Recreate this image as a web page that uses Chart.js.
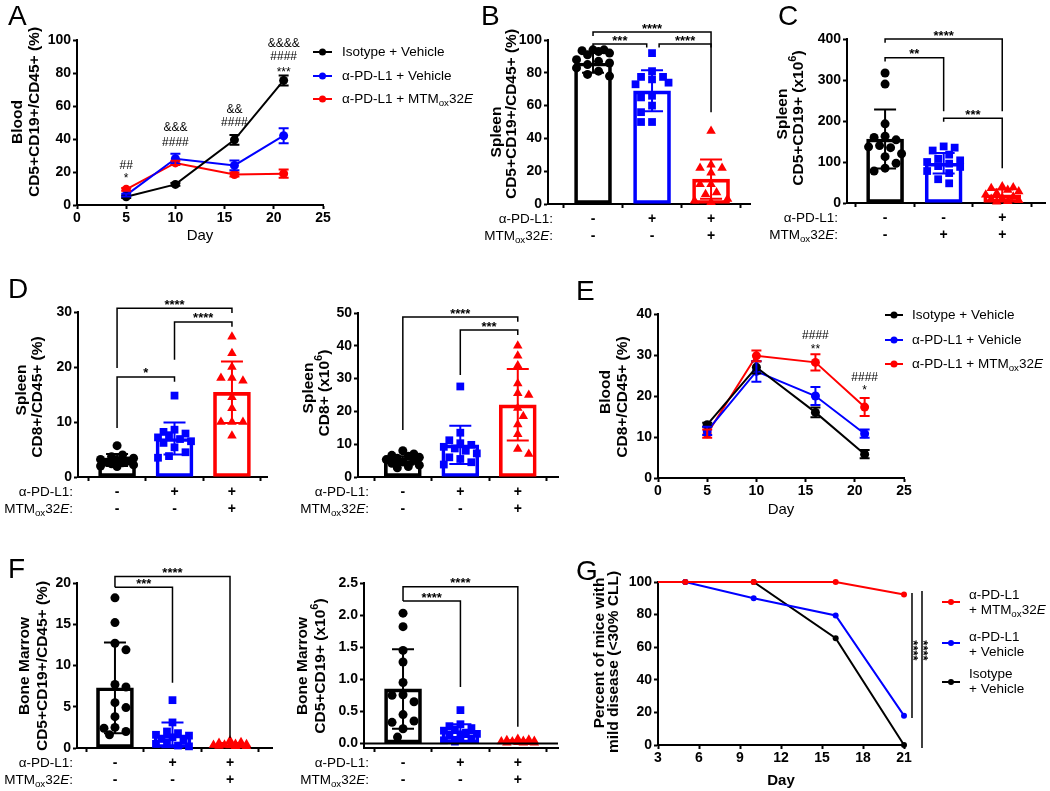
<!DOCTYPE html>
<html>
<head>
<meta charset="utf-8">
<script src="https://cdn.jsdelivr.net/npm/chart.js@4.4.1/dist/chart.umd.min.js"></script>
<style>
  html, body { margin: 0; padding: 0; background: #fff; }
  #wrap { position: relative; width: 1050px; height: 791px; overflow: hidden; }
  #wrap canvas { position: absolute; left: 0; top: 0; }
</style>
</head>
<body>
<div id="wrap"></div>
<script>
const FONT = '"Liberation Sans", Arial, Helvetica, sans-serif';
const BLK = '#000000', BLU = '#0000ff', RED = '#ff0000';
const COLS = [BLK, BLU, RED];
const STYLES = ['circle', 'rect', 'triangle'];
const RADII = [4.5, 5.5, 5.5];
const COMBO = 'MTM<sub>ox</sub>32<i>E</i>';

// ---------- data ----------
const lineDays = [5, 10, 16, 21];
const lineDayTicks = [0, 5, 10, 15, 20, 25];

// A: blood CD5+CD19+/CD45+ (%)
const aIso = [5, 12.5, 39.5, 75.5];
const aIsoErr = [0.8, 0.9, 3, 3];
const aPd = [6, 28, 24, 42];
const aPdErr = [0.8, 3, 3, 4.5];
const aCombo = [9.5, 25.5, 18.5, 19];
const aComboErr = [0.8, 1.3, 1.2, 2.5];
const aTicks = [0, 20, 40, 60, 80, 100];
const aNoteDay = [5, 5, 10, 10, 16, 16, 21, 21, 21];
const aNoteText = ['##', '*', '&&&', '####', '&&', '####', '&&&&', '####', '***'];
const aNoteY = [24, 18, 46.7, 38, 58, 50, 98, 90, 82];

// treatment rows under the bar charts
const rowPd = ['-', '+', '+'];
const rowCombo = ['-', '-', '+'];
const cRowPd = ['-', '-', '+'];
const cRowCombo = ['-', '+', '+'];

// B: spleen CD5+CD19+/CD45+ (%)
const bMean = [86, 69, 15.2];
const bSd = [6, 12.5, 12];
const bIso = [94, 94, 93.5, 93, 92, 91, 88, 87, 86, 85, 83, 81, 79, 78];
const bPd = [92, 81, 77.5, 77.5, 76, 74, 73, 66, 65, 60, 56, 50, 50];
const bCombo = [44.5, 24, 22, 22, 19, 12, 12, 7, 6, 3, 2, 1];
const bTicks = [0, 20, 40, 60, 80, 100];

// C: spleen CD5+CD19+ (x10^6)
const cMean = [156, 97, 20];
const cSd = [72, 25, 13];
const cIso = [317, 290, 193, 163, 160, 154, 140, 137, 135, 120, 113, 97, 85, 78];
const cPd = [138, 135, 128, 118, 108, 104, 100, 96, 90, 88, 78, 73, 58, 48];
const cCombo = [40, 38, 36, 32, 28, 24, 20, 15, 12, 10, 7, 4, 3];
const cTicks = [0, 100, 200, 300, 400];

// D left: spleen CD8+/CD45+ (%)
const d1Mean = [3.1, 7.0, 15.4];
const d1Sd = [1.1, 2.9, 5.6];
const d1Iso = [5.7, 4.0, 3.7, 3.4, 3.2, 3.0, 2.9, 2.7, 2.6, 2.4, 2.2, 2.0, 1.9];
const d1Pd = [14.8, 8.6, 8.2, 7.9, 7.6, 7.2, 6.9, 6.5, 6.2, 5.4, 4.5, 3.8, 3.5];
const d1Combo = [25.5, 22.5, 20, 18, 18, 17.5, 14.5, 12.5, 10, 10, 10, 7.5];
const d1Ticks = [0, 10, 20, 30];

// D right: spleen CD8+ (x10^6)
const d2Mean = [5.0, 9.8, 22];
const d2Sd = [1.3, 5.8, 10.9];
const d2Iso = [8, 7, 6.6, 6.3, 6, 5.7, 5.3, 5, 4.6, 4.2, 3.6, 3.2, 2.8];
const d2Pd = [27.6, 13.5, 11.2, 10.3, 9.8, 9.2, 8.7, 8, 7.2, 6, 5.5, 4.5, 3.8];
const d2Combo = [40, 37, 34, 28.5, 25.5, 25, 21, 18.5, 16, 13, 8.5, 7];
const d2Ticks = [0, 10, 20, 30, 40, 50];

// E: blood CD8+/CD45+ (%)
const eIso = [13, 27, 16, 5.8];
const eIsoErr = [0.5, 1.5, 1.2, 1];
const ePd = [11.5, 26, 20, 10.8];
const ePdErr = [1, 2.5, 2.2, 1];
const eCombo = [10.8, 29.8, 28.2, 17.3];
const eComboErr = [1, 1.3, 2, 2.2];
const eTicks = [0, 10, 20, 30, 40];
const eNoteDay = [16, 16, 21, 21];
const eNoteText = ['####', '**', '####', '*'];
const eNoteY = [34.6, 32, 24.4, 22];

// F left: bone marrow CD5+CD19+/CD45+ (%)
const f1Mean = [7.3, 1.6, 0.4];
const f1Sd = [5.5, 1.5, 0.2];
const f1Iso = [18.2, 15.2, 12.7, 11.9, 7.7, 7.4, 5.5, 4.9, 3.8, 2.5, 2.4, 2.0, 1.6];
const f1Pd = [5.8, 3.1, 2.0, 1.8, 1.6, 1.5, 1.3, 1.1, 0.9, 0.7, 0.5, 0.3, 0.2];
const f1Combo = [0.9, 0.7, 0.6, 0.5, 0.45, 0.4, 0.35, 0.3, 0.3, 0.25, 0.2, 0.2];
const f1Ticks = [0, 5, 10, 15, 20];

// F right: bone marrow CD5+CD19+ (x10^6)
const f2Mean = [0.85, 0.2, 0.03];
const f2Sd = [0.62, 0.1, 0.02];
const f2Iso = [2.03, 1.82, 1.45, 1.27, 0.95, 0.76, 0.75, 0.65, 0.45, 0.35, 0.33, 0.23, 0.1];
const f2Pd = [0.52, 0.3, 0.27, 0.24, 0.22, 0.2, 0.17, 0.15, 0.12, 0.1, 0.08, 0.05, 0.03];
const f2Combo = [0.07, 0.06, 0.05, 0.04, 0.04, 0.03, 0.03, 0.02, 0.02, 0.01, 0.01, 0.01];
const f2Ticks = [0, 0.5, 1, 1.5, 2, 2.5];

// G: percent of mice with mild disease
const gDays = [3, 5, 10, 16, 21];
const gCombo = [100, 100, 100, 100, 92.3];
const gPd = [100, 100, 90, 79.5, 18];
const gIso = [100, 100, 100, 65.5, 0];
const gDayTicks = [3, 6, 9, 12, 15, 18, 21];
const gTicks = [0, 20, 40, 60, 80, 100];

// ---------- rich text ----------
function parseRich(s) {
  const out = [], re = /<(sub|sup|i)>(.*?)<\/\1>/g;
  let last = 0, m;
  while ((m = re.exec(s))) {
    if (m.index > last) out.push({ t: s.slice(last, m.index) });
    out.push({ t: m[2], [m[1]]: true });
    last = re.lastIndex;
  }
  if (last < s.length) out.push({ t: s.slice(last) });
  return out;
}
function fontFor(p, size, bold) {
  const sz = (p.sub || p.sup) ? size * 0.72 : size;
  return (p.i ? 'italic ' : '') + (bold ? 'bold ' : '') + sz + 'px ' + FONT;
}
function drawRich(ctx, s, x, y, o) {
  const parts = parseRich(s), size = o.size || 14;
  ctx.save();
  ctx.translate(x, y);
  if (o.rot) ctx.rotate(o.rot);
  let w = 0;
  parts.forEach(p => { ctx.font = fontFor(p, size, o.bold); p.w = ctx.measureText(p.t).width; w += p.w; });
  let cx = o.align === 'center' ? -w / 2 : o.align === 'right' ? -w : 0;
  ctx.fillStyle = o.color || BLK;
  ctx.textBaseline = 'middle';
  ctx.textAlign = 'left';
  parts.forEach(p => {
    ctx.font = fontFor(p, size, o.bold);
    const dy = p.sub ? size * 0.3 : p.sup ? -size * 0.38 : 0;
    ctx.fillText(p.t, cx, dy);
    cx += p.w;
  });
  ctx.restore();
}
const isStars = s => /^\*+$/.test(s);

// ---------- decoration plugin ----------
function drawErrors(chart) {
  const ctx = chart.ctx, ys = chart.scales.y;
  chart.data.datasets.forEach((ds, i) => {
    if (!ds.err) return;
    const meta = chart.getDatasetMeta(i);
    ctx.save();
    ctx.lineWidth = 2;
    meta.data.forEach((el, j) => {
      const v = ds.data[j].y, e = ds.err[j];
      const top = ys.getPixelForValue(v + e), bot = ys.getPixelForValue(v - e);
      ctx.strokeStyle = Array.isArray(ds.errColor) ? ds.errColor[j] : ds.errColor;
      ctx.beginPath();
      ctx.moveTo(el.x, top); ctx.lineTo(el.x, bot);
      ctx.moveTo(el.x - ds.cap, top); ctx.lineTo(el.x + ds.cap, top);
      ctx.moveTo(el.x - ds.cap, bot); ctx.lineTo(el.x + ds.cap, bot);
      ctx.stroke();
    });
    ctx.restore();
  });
}

function drawDeco(chart, c) {
  const ctx = chart.ctx, xs = chart.scales.x, ys = chart.scales.y, ca = chart.chartArea;
  ctx.save();
  if (c.letter) drawRich(ctx, c.letter[0], c.letter[1], c.letter[2], { size: 28 });
  (c.texts || []).forEach(t => drawRich(ctx, t.s, t.x, t.y, t));
  if (c.rows) {
    const lh = 14 * 1.2;
    c.rows.forEach((s, k) => drawRich(ctx, s, c.rowX, ca.bottom + 4 + c.pad + lh / 2 + k * lh, { size: 13.5, align: 'right' }));
  }
  if (c.legend) {
    const L = c.legend;
    L.items.forEach(it => {
      ctx.strokeStyle = it.color; ctx.fillStyle = it.color; ctx.lineWidth = 2;
      ctx.beginPath(); ctx.moveTo(L.x1, it.y); ctx.lineTo(L.x2, it.y); ctx.stroke();
      ctx.beginPath(); ctx.arc((L.x1 + L.x2) / 2, it.y, L.r, 0, Math.PI * 2); ctx.fill();
      it.lines.forEach(ln => drawRich(ctx, ln[0], L.tx, ln[1], { size: 13.5 }));
    });
  }
  (c.brackets || []).forEach(b => {
    const x1 = xs.getPixelForValue(b[0]), x2 = xs.getPixelForValue(b[1]);
    const y = ys.getPixelForValue(b[2]), y1 = ys.getPixelForValue(b[3]), y2 = ys.getPixelForValue(b[4]);
    ctx.strokeStyle = BLK; ctx.lineWidth = 1.5;
    ctx.beginPath(); ctx.moveTo(x1, y1); ctx.lineTo(x1, y); ctx.lineTo(x2, y); ctx.lineTo(x2, y2); ctx.stroke();
    drawRich(ctx, b[5], (x1 + x2) / 2, y - 6 + 13 * 0.23, { size: 13, bold: true, align: 'center' });
  });
  (c.notes || []).forEach(n => {
    const sz = 12;
    drawRich(ctx, n[1], xs.getPixelForValue(n[0]), ys.getPixelForValue(n[2]) + (isStars(n[1]) ? sz * 0.25 : 0), { size: sz, align: 'center' });
  });
  (c.vlines || []).forEach(v => {
    ctx.strokeStyle = BLK; ctx.lineWidth = 1.5;
    const x = xs.getPixelForValue(v[0]);
    ctx.beginPath(); ctx.moveTo(x, ys.getPixelForValue(v[1])); ctx.lineTo(x, ys.getPixelForValue(v[2])); ctx.stroke();
    drawRich(ctx, '****', xs.getPixelForValue(v[3]), ys.getPixelForValue(v[4]), { size: 13, bold: true, align: 'center', rot: Math.PI / 2 });
  });
  if (c.zeroLine) {
    const y = ys.getPixelForValue(0);
    ctx.strokeStyle = BLK; ctx.lineWidth = 2;
    ctx.beginPath(); ctx.moveTo(ca.left, y); ctx.lineTo(ca.right, y); ctx.stroke();
  }
  ctx.restore();
}

function deco(cfg) {
  return {
    id: 'deco',
    afterDatasetsDraw(chart) { drawErrors(chart); },
    afterDraw(chart) { drawDeco(chart, cfg); }
  };
}

// ---------- axes ----------
function yAxis(min, max, ticks, fmt) {
  return {
    type: 'linear', min, max,
    afterBuildTicks: s => { s.ticks = ticks.map(v => ({ value: v })); },
    grid: { display: true, drawOnChartArea: false, drawTicks: true, tickLength: 4, tickWidth: 2, tickColor: BLK },
    border: { display: true, color: BLK, width: 2 },
    ticks: { color: BLK, font: { size: 14, weight: 'bold' }, padding: 2, callback: fmt || (v => v) }
  };
}
function xAxis(min, max, ticks, fmt, pad) {
  return {
    type: 'linear', min, max, offset: false,
    afterBuildTicks: s => { s.ticks = ticks.map(v => ({ value: v })); },
    grid: { display: true, drawOnChartArea: false, drawTicks: true, tickLength: 4, tickWidth: 2, tickColor: BLK },
    border: { display: true, color: BLK, width: 2 },
    ticks: { color: BLK, font: { size: 14, weight: 'bold', lineHeight: 1.2 }, padding: pad, autoSkip: false, maxRotation: 0, minRotation: 0, callback: fmt || (v => v) }
  };
}

// ---------- helpers ----------
const wrap = document.getElementById('wrap');
function makeChart(g, config) {
  const cv = document.createElement('canvas');
  cv.width = 1050; cv.height = 791;
  cv.style.width = '1050px'; cv.style.height = '791px';
  wrap.appendChild(cv);
  // the axis boxes fill the space from the canvas edge to the plot area, so labels are not clipped
  config.options.scales.y.afterFit = s => { s.width = g.l; };
  config.options.scales.x.afterFit = s => { s.height = 791 - g.b; };
  config.options = Object.assign({
    responsive: false, animation: false, devicePixelRatio: 1,
    layout: { autoPadding: false, padding: { left: 0, top: g.t, right: 1050 - g.r, bottom: 0 } },
    plugins: { legend: { display: false }, tooltip: { enabled: false } },
    events: []
  }, config.options);
  return new Chart(cv.getContext('2d'), config);
}

// spread the dots of one group sideways so they do not overlap
function swarm(vals, cat, pxY, pxX) {
  const d = 9.5, step = 5.5, half = 17;
  const idx = vals.map((v, i) => i).sort((a, b) => vals[b] - vals[a]);
  const placed = [], out = [];
  idx.forEach(i => {
    const py = vals[i] * pxY;
    let best = 0, bestGap = -1, done = false;
    for (let k = 0; k <= 6 && !done; k++) {
      const cands = k === 0 ? [0] : (placed.length % 2 ? [k * step, -k * step] : [-k * step, k * step]);
      for (const off of cands) {
        if (Math.abs(off) > half) continue;
        const gap = placed.reduce((m, p) => Math.min(m, Math.hypot(p.x - off, p.y - py)), Infinity);
        if (gap >= d) { best = off; done = true; break; }
        if (gap > bestGap) { bestGap = gap; best = off; }
      }
    }
    placed.push({ x: best, y: py });
    out[i] = { x: cat + best / pxX, y: vals[i] };
  });
  return out;
}

function lineSet(days, vals, err, color, order, radius) {
  return {
    type: 'line', data: days.map((d, i) => ({ x: d, y: vals[i] })), err, errColor: color, cap: 5,
    borderColor: color, backgroundColor: color, pointBackgroundColor: color, pointBorderColor: color,
    borderWidth: 2, pointRadius: radius, pointBorderWidth: 0, tension: 0, clip: false, order
  };
}

function barChart(g, xr, yr, yTicks, yFmt, rows, means, sds, groups, extra) {
  const pxY = (g.b - g.t) / (yr[1] - yr[0]), pxX = (g.r - g.l) / (xr[1] - xr[0]);
  const datasets = [{
    type: 'bar', data: means.map((m, i) => ({ x: i, y: m })), err: sds, errColor: COLS, cap: 11,
    borderColor: COLS, backgroundColor: 'rgba(255,255,255,0)', borderWidth: 3, borderSkipped: false,
    barThickness: 37, order: 3, clip: false
  }];
  groups.forEach((vals, k) => datasets.push({
    type: 'scatter', data: swarm(vals, k, pxY, pxX), pointStyle: STYLES[k], pointRadius: RADII[k],
    backgroundColor: COLS[k], borderColor: COLS[k], borderWidth: 0, order: 1, clip: false
  }));
  const pad = 3;
  return makeChart(g, {
    type: 'bar',
    data: { datasets },
    options: {
      scales: {
        x: xAxis(xr[0], xr[1], [0, 1, 2], v => [rows[0][v], rows[1][v]], pad),
        y: yAxis(yr[0], yr[1], yTicks, yFmt)
      }
    },
    plugins: [deco(Object.assign({ pad, rows: ['α-PD-L1:', COMBO + ':'] }, extra))]
  });
}

const ROT = -Math.PI / 2;
const title = (s, x, y, size) => ({ s, x, y, rot: ROT, size: size || 15.5, bold: true, align: 'center' });

// ---------- A ----------
makeChart({ l: 77, t: 40, r: 323, b: 205 }, {
  type: 'line',
  data: { datasets: [
    lineSet(lineDays, aIso, aIsoErr, BLK, 0, 4.5),
    lineSet(lineDays, aPd, aPdErr, BLU, 1, 4.5),
    lineSet(lineDays, aCombo, aComboErr, RED, 2, 4.5)
  ] },
  options: { scales: { x: xAxis(0, 25, lineDayTicks, null, 1), y: yAxis(0, 100, aTicks) } },
  plugins: [deco({
    letter: ['A', 8, 17],
    texts: [title('Blood', 18, 122), title('CD5+CD19+/CD45+ (%)', 35, 112),
            { s: 'Day', x: 200, y: 236, size: 15, align: 'center' }],
    legend: { x1: 313, x2: 332, tx: 342, r: 3.5, items: [
      { color: BLK, y: 52, lines: [['Isotype + Vehicle', 52]] },
      { color: BLU, y: 76, lines: [['α-PD-L1 + Vehicle', 76]] },
      { color: RED, y: 99, lines: [['α-PD-L1 + ' + COMBO, 99]] }
    ] },
    notes: aNoteDay.map((d, i) => [d, aNoteText[i], aNoteY[i]])
  })]
});

// ---------- B ----------
barChart({ l: 548, t: 40, r: 750, b: 204 }, [-0.763, 2.66], [0, 100], bTicks, null,
  [rowPd, rowCombo], bMean, bSd, [bIso, bPd, bCombo], {
    letter: ['B', 481, 17], rowX: 553,
    texts: [title('Spleen', 497, 132), title('CD5+CD19+/CD45+ (%)', 512, 114)],
    brackets: [[0, 2, 104.9, 102.5, 56, '****'], [0, 0.91, 97.6, 95.5, 95.5, '***'], [1.12, 2, 97.6, 95.5, 95.5, '****']]
  });

// ---------- C ----------
barChart({ l: 847, t: 39, r: 1045, b: 203 }, [-0.65, 2.73], [0, 400], cTicks, null,
  [cRowPd, cRowCombo], cMean, cSd, [cIso, cPd, cCombo], {
    letter: ['C', 778, 17], rowX: 838,
    texts: [title('Spleen', 783, 114), title('CD5+CD19+ (x10<sup>6</sup>)', 799, 118)],
    brackets: [[0, 2, 400, 391, 224, '****'], [0, 1, 354, 345, 224, '**'], [1, 2, 207, 198, 85, '***']]
  });

// ---------- D left ----------
barChart({ l: 78, t: 312, r: 267, b: 477 }, [-0.68, 2.61], [0, 30], d1Ticks, null,
  [rowPd, rowCombo], d1Mean, d1Sd, [d1Iso, d1Pd, d1Combo], {
    letter: ['D', 8, 290], rowX: 73,
    texts: [title('Spleen', 22, 390), title('CD8+/CD45+ (%)', 38, 397)],
    brackets: [[0, 2, 30.7, 19.8, 29.8, '****'], [1, 2, 28.2, 21.3, 27.3, '****'], [0, 1, 18.2, 8.9, 17.3, '*']]
  });

// ---------- D right ----------
barChart({ l: 358, t: 313, r: 558, b: 477 }, [-0.78, 2.7], [0, 50], d2Ticks, null,
  [rowPd, rowCombo], d2Mean, d2Sd, [d2Iso, d2Pd, d2Combo], {
    rowX: 369,
    texts: [title('Spleen', 309, 388), title('CD8+ (x10<sup>6</sup>)', 325, 393)],
    brackets: [[0, 2, 48.8, 14.3, 47.3, '****'], [1, 2, 44.8, 31.1, 43.3, '***']]
  });

// ---------- E ----------
makeChart({ l: 658, t: 314, r: 904, b: 478 }, {
  type: 'line',
  data: { datasets: [
    lineSet(lineDays, eIso, eIsoErr, BLK, 0, 4.5),
    lineSet(lineDays, ePd, ePdErr, BLU, 1, 4.5),
    lineSet(lineDays, eCombo, eComboErr, RED, 2, 4.5)
  ] },
  options: { scales: { x: xAxis(0, 25, lineDayTicks, null, 1), y: yAxis(0, 40, eTicks) } },
  plugins: [deco({
    letter: ['E', 576, 292],
    texts: [title('Blood', 606, 392), title('CD8+/CD45+ (%)', 623, 397),
            { s: 'Day', x: 781, y: 510, size: 15, align: 'center' }],
    legend: { x1: 885, x2: 903, tx: 912, r: 3.5, items: [
      { color: BLK, y: 315, lines: [['Isotype + Vehicle', 315]] },
      { color: BLU, y: 340, lines: [['α-PD-L1 + Vehicle', 340]] },
      { color: RED, y: 364, lines: [['α-PD-L1 + ' + COMBO, 364]] }
    ] },
    notes: eNoteDay.map((d, i) => [d, eNoteText[i], eNoteY[i]])
  })]
});

// ---------- F left ----------
barChart({ l: 77, t: 583, r: 272, b: 748 }, [-0.66, 2.73], [0, 20], f1Ticks, null,
  [rowPd, rowCombo], f1Mean, f1Sd, [f1Iso, f1Pd, f1Combo], {
    letter: ['F', 8, 570], rowX: 73,
    texts: [title('Bone Marrow', 25, 666), title('CD5+CD19+/CD45+ (%)', 43, 666)],
    brackets: [[0, 2, 20.8, 19.5, 1.2, '****'], [0, 1, 19.5, 19.5, 7.9, '***']]
  });

// ---------- F right ----------
barChart({ l: 364, t: 583, r: 558, b: 748 }, [-0.68, 2.7], [-0.07, 2.5], f2Ticks, v => v.toFixed(1),
  [rowPd, rowCombo], f2Mean, f2Sd, [f2Iso, f2Pd, f2Combo], {
    rowX: 369, zeroLine: true,
    texts: [title('Bone Marrow', 303, 666), title('CD5+CD19+ (x10<sup>6</sup>)', 321, 666)],
    brackets: [[0, 2, 2.44, 2.22, 0.26, '****'], [0, 1, 2.22, 2.22, 0.88, '****']]
  });

// ---------- G ----------
const gRadius = [0, 3, 3, 3, 3];
makeChart({ l: 658, t: 582, r: 904, b: 745 }, {
  type: 'line',
  data: { datasets: [
    lineSet(gDays, gCombo, null, RED, 0, gRadius),
    lineSet(gDays, gPd, null, BLU, 1, gRadius),
    lineSet(gDays, gIso, null, BLK, 2, gRadius)
  ] },
  options: { scales: { x: xAxis(3, 21, gDayTicks, null, 1), y: yAxis(0, 100, gTicks) } },
  plugins: [deco({
    letter: ['G', 576, 572],
    texts: [title('Percent of mice with', 600, 653), title('mild disease (<30% CLL)', 614, 662),
            { s: 'Day', x: 781, y: 781, size: 15, bold: true, align: 'center' }],
    legend: { x1: 942, x2: 960, tx: 969, r: 3, items: [
      { color: RED, y: 602, lines: [['α-PD-L1', 595], ['+ ' + COMBO, 610]] },
      { color: BLU, y: 643, lines: [['α-PD-L1', 637], ['+ Vehicle', 652]] },
      { color: BLK, y: 682, lines: [['Isotype', 674], ['+ Vehicle', 689]] }
    ] },
    vlines: [[21.585, 93.2, 16.6, 21.66, 58], [22.317, 94.5, -1.8, 22.39, 58]]
  })]
});
</script>
</body>
</html>
